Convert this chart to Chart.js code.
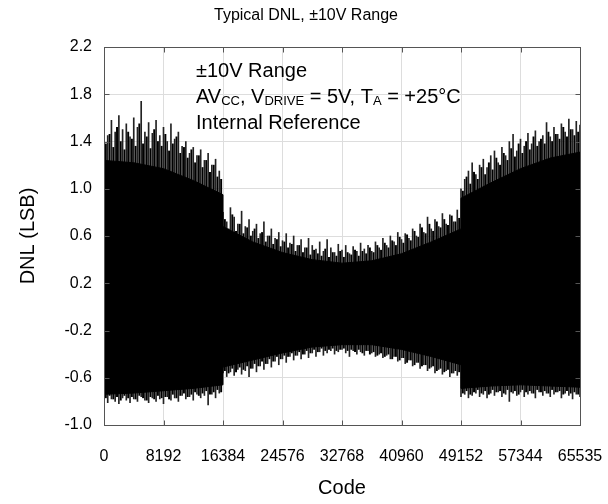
<!DOCTYPE html>
<html><head><meta charset="utf-8">
<script src="https://cdn.jsdelivr.net/npm/chart.js@4.4.1/dist/chart.umd.min.js"></script>
<style>html,body{margin:0;padding:0;background:#fff}#wrap{width:608px;height:504px;position:relative}</style>
</head><body><div id="wrap"><canvas id="c" width="608" height="504"></canvas></div>
<script>
const chartTitle = "Typical DNL, \u00B110V Range";
const xTitle = "Code";
const yTitle = "DNL (LSB)";
const xTicks = [0, 8192, 16384, 24576, 32768, 40960, 49152, 57344, 65535];
const yTicks = [-1.0, -0.6, -0.2, 0.2, 0.6, 1.0, 1.4, 1.8, 2.2];

// solid core of the DNL band
const coreCodes  = [0, 4096, 8192, 12288, 16383, 16384, 20480, 24576, 28672, 32768, 36864, 40960, 45056, 49151, 49152, 53248, 57344, 61440, 65535];
const coreTop    = [1.24, 1.22, 1.17, 1.07, 0.95, 0.68, 0.55, 0.46, 0.40, 0.37, 0.39, 0.45, 0.55, 0.66, 0.92, 1.05, 1.17, 1.26, 1.31];
const coreBottom = [-0.74, -0.73, -0.71, -0.69, -0.66, -0.51, -0.45, -0.39, -0.34, -0.32, -0.32, -0.36, -0.42, -0.49, -0.69, -0.67, -0.66, -0.67, -0.68];

// tallest spikes, sampled every 512 codes
const spikeCodes = [0,512,1024,1536,2048,2560,3072,3584,4096,4608,5120,5632,6144,6656,7168,7680,8192,8704,9216,9728,10240,10752,11264,11776,12288,12800,13312,13824,14336,14848,15360,15872,16384,16896,17408,17920,18432,18944,19456,19968,20480,20992,21504,22016,22528,23040,23552,24064,24576,25088,25600,26112,26624,27136,27648,28160,28672,29184,29696,30208,30720,31232,31744,32256,32768,33280,33792,34304,34816,35328,35840,36352,36864,37376,37888,38400,38912,39424,39936,40448,40960,41472,41984,42496,43008,43520,44032,44544,45056,45568,46080,46592,47104,47616,48128,48640,49152,49664,50176,50688,51200,51712,52224,52736,53248,53760,54272,54784,55296,55808,56320,56832,57344,57856,58368,58880,59392,59904,60416,60928,61440,61952,62464,62976,63488,64000,64512,65024,65535];
const dnlMax = [1.52,1.45,1.58,1.48,1.62,1.50,1.55,1.44,1.60,1.52,1.74,1.48,1.56,1.47,1.58,1.45,1.52,1.40,1.55,1.42,1.48,1.36,1.40,1.30,1.35,1.28,1.33,1.24,1.30,1.20,1.25,1.15,
  0.80,0.72,0.84,0.76,0.70,0.81,0.68,0.74,0.64,0.70,0.62,0.72,0.60,0.66,0.58,0.63,0.56,0.62,0.54,0.60,0.52,0.57,0.50,0.58,0.52,0.49,0.55,0.47,0.57,0.50,0.46,0.53,
  0.48,0.52,0.45,0.51,0.47,0.54,0.49,0.52,0.47,0.55,0.50,0.58,0.52,0.60,0.55,0.63,0.57,0.62,0.58,0.66,0.60,0.70,0.63,0.76,0.66,0.74,0.68,0.79,0.70,0.78,0.72,0.82,
  1.00,1.08,1.15,1.22,1.12,1.20,1.25,1.18,1.28,1.32,1.22,1.35,1.28,1.40,1.46,1.32,1.42,1.36,1.47,1.38,1.49,1.40,1.45,1.56,1.44,1.52,1.46,1.55,1.48,1.59,1.50,1.57,1.54];
const dnlMin = [-0.79,-0.81,-0.78,-0.80,-0.82,-0.77,-0.79,-0.81,-0.78,-0.80,-0.76,-0.79,-0.81,-0.77,-0.80,-0.78,-0.82,-0.76,-0.79,-0.77,-0.80,-0.75,-0.78,-0.76,-0.79,-0.74,-0.77,-0.75,-0.83,-0.74,-0.77,-0.73,
  -0.56,-0.59,-0.55,-0.58,-0.53,-0.57,-0.54,-0.59,-0.52,-0.55,-0.50,-0.53,-0.48,-0.51,-0.46,-0.49,-0.44,-0.47,-0.42,-0.45,-0.41,-0.44,-0.40,-0.43,-0.39,-0.42,-0.38,-0.41,-0.39,-0.37,-0.40,-0.38,
  -0.36,-0.39,-0.42,-0.37,-0.40,-0.38,-0.41,-0.37,-0.39,-0.42,-0.40,-0.43,-0.41,-0.44,-0.42,-0.46,-0.43,-0.48,-0.45,-0.50,-0.47,-0.52,-0.49,-0.54,-0.51,-0.56,-0.53,-0.57,-0.54,-0.59,-0.56,-0.58,
  -0.76,-0.74,-0.77,-0.75,-0.73,-0.76,-0.74,-0.77,-0.73,-0.75,-0.72,-0.76,-0.74,-0.80,-0.73,-0.75,-0.72,-0.76,-0.74,-0.73,-0.77,-0.72,-0.75,-0.73,-0.76,-0.74,-0.72,-0.77,-0.73,-0.75,-0.78,-0.74,-0.76];

// medium spikes in between, sampled every 512 codes starting at 256
const spikeCodes2 = [256,768,1280,1792,2304,2816,3328,3840,4352,4864,5376,5888,6400,6912,7424,7936,8448,8960,9472,9984,10496,11008,11520,12032,12544,13056,13568,14080,14592,15104,15616,16128,16640,17152,17664,18176,18688,19200,19712,20224,20736,21248,21760,22272,22784,23296,23808,24320,24832,25344,25856,26368,26880,27392,27904,28416,28928,29440,29952,30464,30976,31488,32000,32512,33024,33536,34048,34560,35072,35584,36096,36608,37120,37632,38144,38656,39168,39680,40192,40704,41216,41728,42240,42752,43264,43776,44288,44800,45312,45824,46336,46848,47360,47872,48384,48896,49408,49920,50432,50944,51456,51968,52480,52992,53504,54016,54528,55040,55552,56064,56576,57088,57600,58112,58624,59136,59648,60160,60672,61184,61696,62208,62720,63232,63744,64256,64768,65280];
const dnlMax2 = [1.38,1.46,1.35,1.52,1.40,1.33,1.48,1.42,1.36,1.55,1.38,1.44,1.34,1.50,1.40,1.36,1.46,1.32,1.38,1.44,1.30,1.35,1.26,1.33,1.22,1.28,1.18,1.24,1.14,1.20,1.10,1.08,
  0.74,0.66,0.78,0.64,0.70,0.62,0.67,0.60,0.66,0.58,0.63,0.55,0.60,0.53,0.57,0.51,0.55,0.50,0.53,0.47,0.52,0.46,0.50,0.44,0.48,0.45,0.43,0.49,0.42,0.46,0.43,0.47,
  0.42,0.46,0.44,0.48,0.43,0.47,0.45,0.50,0.46,0.52,0.48,0.54,0.50,0.56,0.52,0.59,0.54,0.61,0.56,0.64,0.59,0.67,0.62,0.70,0.64,0.72,0.67,0.74,0.69,0.77,0.72,0.75,
  0.98,1.10,1.04,1.14,1.08,1.18,1.12,1.22,1.16,1.26,1.20,1.30,1.24,1.34,1.27,1.38,1.30,1.40,1.33,1.44,1.36,1.42,1.38,1.48,1.40,1.46,1.42,1.52,1.44,1.50,1.45,1.48];
const dnlMin2 = [-0.77,-0.75,-0.78,-0.76,-0.79,-0.75,-0.77,-0.76,-0.78,-0.75,-0.77,-0.79,-0.76,-0.78,-0.75,-0.77,-0.76,-0.78,-0.74,-0.77,-0.75,-0.73,-0.76,-0.74,-0.72,-0.75,-0.73,-0.71,-0.74,-0.72,-0.70,-0.72,
  -0.54,-0.56,-0.52,-0.55,-0.51,-0.53,-0.50,-0.52,-0.48,-0.50,-0.46,-0.48,-0.44,-0.46,-0.42,-0.44,-0.41,-0.42,-0.39,-0.41,-0.38,-0.40,-0.37,-0.39,-0.36,-0.38,-0.35,-0.37,-0.36,-0.35,-0.37,-0.36,
  -0.35,-0.37,-0.36,-0.38,-0.36,-0.39,-0.37,-0.40,-0.38,-0.41,-0.39,-0.42,-0.40,-0.44,-0.42,-0.45,-0.43,-0.47,-0.45,-0.49,-0.47,-0.50,-0.49,-0.52,-0.50,-0.54,-0.52,-0.55,-0.53,-0.56,-0.54,-0.55,
  -0.73,-0.71,-0.74,-0.72,-0.70,-0.73,-0.71,-0.74,-0.70,-0.72,-0.71,-0.73,-0.70,-0.72,-0.71,-0.74,-0.70,-0.72,-0.71,-0.73,-0.70,-0.72,-0.71,-0.73,-0.70,-0.72,-0.71,-0.74,-0.71,-0.73,-0.72,-0.74];

const FONT = "'Liberation Sans', Arial, Helvetica, sans-serif";

const decor = {
  id: 'decor',
  afterDatasetsDraw(chart) {
    const {ctx, chartArea: a, scales: {x, y}} = chart;
    ctx.save();
    ctx.strokeStyle = '#555';
    ctx.lineWidth = 1;
    const L = Math.round(a.left) + 0.5, R = Math.round(a.right) + 0.5;
    const T = Math.round(a.top) + 0.5, B = Math.round(a.bottom) + 0.5;
    ctx.beginPath();
    xTicks.forEach(v => {
      const px = Math.round(x.getPixelForValue(v)) + 0.5;
      ctx.moveTo(px, B); ctx.lineTo(px, B - 5);
      ctx.moveTo(px, T); ctx.lineTo(px, T + 5);
    });
    yTicks.forEach(v => {
      const py = Math.round(y.getPixelForValue(v)) + 0.5;
      ctx.moveTo(L, py); ctx.lineTo(L + 5, py);
      ctx.moveTo(R, py); ctx.lineTo(R - 5, py);
    });
    ctx.stroke();
    ctx.strokeRect(L, T, R - L, B - T);
    ctx.restore();
  },
  afterDraw(chart) {
    const {ctx, chartArea: a} = chart;
    ctx.save();
    ctx.fillStyle = '#000';
    ctx.font = '16px ' + FONT;
    ctx.textAlign = 'center';
    ctx.textBaseline = 'middle';
    ctx.fillText(chartTitle, 306, 16);
    ctx.font = '20px ' + FONT;
    ctx.fillText(xTitle, (a.left + a.right) / 2, 488);
    ctx.save();
    ctx.translate(28, (a.top + a.bottom) / 2);
    ctx.rotate(-Math.PI / 2);
    ctx.fillText(yTitle, 0, 0);
    ctx.restore();
    ctx.textAlign = 'left';
    ctx.textBaseline = 'alphabetic';
    const x0 = 196;
    ctx.font = '20px ' + FONT;
    ctx.fillText('\u00B110V Range', x0, 77);
    const parts = [['AV', 0], ['CC', 1], [', V', 0], ['DRIVE', 1], [' = 5V, T', 0], ['A', 1], [' = +25\u00B0C', 0]];
    let cx = x0;
    parts.forEach(([t, sub]) => {
      ctx.font = (sub ? '13px ' : '20px ') + FONT;
      ctx.fillText(t, cx, sub ? 105 : 103);
      cx += ctx.measureText(t).width;
    });
    ctx.font = '20px ' + FONT;
    ctx.fillText('Internal Reference', x0, 129);
    ctx.restore();
  }
};

// closed outline of the core: top edge left->right, bottom edge right->left
const corePolygon = coreCodes.map((c, i) => ({x: c, y: coreTop[i]}))
  .concat(coreCodes.map((c, i) => ({x: c, y: coreBottom[i]})).reverse());

new Chart(document.getElementById('c'), {
  data: {
    datasets: [
      {
        type: 'line',
        data: corePolygon,
        borderColor: '#000', borderWidth: 1, pointRadius: 0,
        backgroundColor: '#000', fill: 'shape', tension: 0
      },
      {
        type: 'bar',
        data: spikeCodes.map((c, i) => ({x: c, y: [dnlMin[i], dnlMax[i]]})),
        backgroundColor: '#222',
        borderWidth: 0,
        barThickness: 1,
        grouped: false
      },
      {
        type: 'bar',
        data: spikeCodes2.map((c, i) => ({x: c, y: [dnlMin2[i], dnlMax2[i]]})),
        backgroundColor: '#000',
        borderWidth: 0,
        barThickness: 1.3,
        grouped: false
      }
    ]
  },
  options: {
    responsive: false,
    animation: false,
    events: [],
    layout: {padding: {left: 0, right: 28, top: 47, bottom: 0}},
    plugins: {legend: {display: false}, tooltip: {enabled: false}, title: {display: false}},
    scales: {
      x: {
        type: 'linear', min: 0, max: 65535, offset: false,
        afterBuildTicks: s => { s.ticks = xTicks.map(v => ({value: v})); },
        afterFit: s => { s.height = 79; s.paddingLeft = 0; s.paddingRight = 0; },
        grid: {color: '#dddddd', lineWidth: 1, drawTicks: false, offset: false},
        border: {display: false},
        ticks: {autoSkip: false, maxRotation: 0, padding: 22, color: '#000',
                font: {family: FONT, size: 16}, callback: v => String(v)}
      },
      y: {
        type: 'linear', min: -1.0, max: 2.2,
        afterBuildTicks: s => { s.ticks = yTicks.map(v => ({value: v})); },
        afterFit: s => { s.width = 104; },
        grid: {color: '#dddddd', lineWidth: 1, drawTicks: false},
        border: {display: false},
        ticks: {padding: 12, color: '#000', font: {family: FONT, size: 16},
                callback: v => v.toFixed(1)}
      }
    }
  },
  plugins: [decor]
});
</script>
</body></html>
